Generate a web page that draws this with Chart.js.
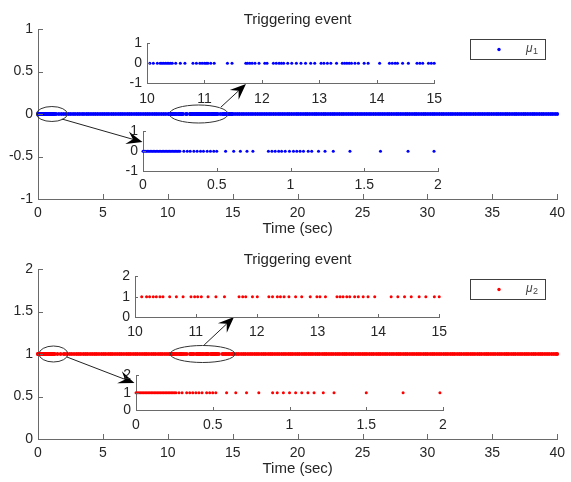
<!DOCTYPE html>
<html lang="en">
<head>
<meta charset="UTF-8" />
<title>Triggering event</title>
<script src="https://cdn.jsdelivr.net/npm/chart.js"></script>
<style>
  body { margin: 0; background: #fff; }
  #wrap { position: relative; width: 571px; height: 482px; overflow: hidden; background: #fff; }
  #wrap canvas { position: absolute; }
</style>
</head>
<body>
<div id="wrap"></div>
<script>
// ---- event times (sec), mu1 ----
const mu1Start = [0.00, 0.01, 0.02, 0.03, 0.04, 0.05, 0.06, 0.07, 0.08, 0.09, 0.10, 0.11, 0.12, 0.13,
  0.14, 0.15, 0.16, 0.17, 0.18, 0.19, 0.20, 0.21, 0.22, 0.23, 0.24, 0.25, 0.277, 0.30, 0.32, 0.345,
  0.367, 0.39, 0.41, 0.435, 0.457, 0.48, 0.50, 0.56, 0.615, 0.66, 0.705, 0.745, 0.85, 0.874, 0.896,
  0.92, 0.94, 0.964, 0.993, 1.02, 1.043, 1.065, 1.088, 1.12, 1.144, 1.19, 1.234, 1.29, 1.403, 1.61,
  1.797, 1.973];
const mu1Mid = [2.15, 2.35, 2.52, 2.70, 2.86, 3.05, 3.22, 3.40, 3.55, 3.74, 3.90, 4.08, 4.25, 4.42,
  4.60, 4.78, 4.95, 5.12, 5.30, 5.46, 5.65, 5.82, 6.00, 6.18, 6.35, 6.52, 6.70, 6.88, 7.05, 7.22,
  7.40, 7.58, 7.75, 7.92, 8.10, 8.28, 8.45, 8.62, 8.80, 8.98, 9.15, 9.32, 9.50, 9.68, 9.85];
const mu1Zoom = [10.05, 10.11, 10.18, 10.23, 10.26, 10.29, 10.32, 10.35, 10.38, 10.41, 10.44, 10.50,
  10.58, 10.66, 10.80, 10.86, 10.92, 10.96, 11.00, 11.03, 11.06, 11.11, 11.17, 11.40, 11.48, 11.72,
  11.75, 11.79, 11.83, 11.88, 11.95, 12.05, 12.09, 12.20, 12.25, 12.30, 12.34, 12.38, 12.45, 12.52,
  12.60, 12.68, 12.76, 12.85, 12.92, 13.03, 13.08, 13.14, 13.20, 13.30, 13.40, 13.44, 13.48, 13.52,
  13.56, 13.62, 13.68, 13.78, 13.85, 14.05, 14.22, 14.27, 14.32, 14.36, 14.45, 14.55, 14.70, 14.75,
  14.80, 14.90, 14.95, 15.00];
const mu1End = [15.18, 15.35, 15.52, 15.70, 15.86, 16.04, 16.22, 16.40, 16.56, 16.74, 16.92, 17.10,
  17.26, 17.44, 17.62, 17.80, 17.96, 18.14, 18.32, 18.50, 18.66, 18.84, 19.02, 19.20, 19.36, 19.54,
  19.72, 19.90, 20.06, 20.24, 20.42, 20.60, 20.76, 20.94, 21.12, 21.30, 21.46, 21.64, 21.82, 22.00,
  22.16, 22.34, 22.52, 22.70, 22.86, 23.04, 23.22, 23.40, 23.56, 23.74, 23.92, 24.10, 24.26, 24.44,
  24.62, 24.80, 24.96, 25.14, 25.32, 25.50, 25.66, 25.84, 26.02, 26.20, 26.36, 26.54, 26.72, 26.90,
  27.06, 27.24, 27.42, 27.60, 27.76, 27.94, 28.12, 28.30, 28.46, 28.64, 28.82, 29.00, 29.16, 29.34,
  29.52, 29.70, 29.86, 30.04, 30.22, 30.40, 30.56, 30.74, 30.92, 31.10, 31.26, 31.44, 31.62, 31.80,
  31.96, 32.14, 32.32, 32.50, 32.66, 32.84, 33.02, 33.20, 33.36, 33.54, 33.72, 33.90, 34.06, 34.24,
  34.42, 34.60, 34.76, 34.94, 35.12, 35.30, 35.46, 35.64, 35.82, 36.00, 36.16, 36.34, 36.52, 36.70,
  36.86, 37.04, 37.22, 37.40, 37.56, 37.74, 37.92, 38.10, 38.26, 38.44, 38.62, 38.80, 38.96, 39.14,
  39.32, 39.50, 39.66, 39.84, 40.00];

// ---- event times (sec), mu2 ----
const mu2Start = [0.00, 0.01, 0.02, 0.03, 0.04, 0.05, 0.06, 0.07, 0.08, 0.09, 0.10, 0.11, 0.12, 0.13,
  0.14, 0.15, 0.16, 0.17, 0.18, 0.19, 0.20, 0.21, 0.22, 0.23, 0.24, 0.25, 0.26, 0.28, 0.30, 0.33,
  0.35, 0.37, 0.39, 0.41, 0.43, 0.46, 0.48, 0.50, 0.52, 0.59, 0.65, 0.72, 0.80, 0.89, 0.92, 0.96,
  1.00, 1.04, 1.08, 1.12, 1.16, 1.22, 1.29, 1.50, 1.74, 1.98];
const mu2Mid = [2.08, 2.25, 2.44, 2.60, 2.78, 2.97, 3.14, 3.30, 3.49, 3.66, 3.82, 4.01, 4.18, 4.36,
  4.52, 4.70, 4.89, 5.06, 5.22, 5.41, 5.58, 5.74, 5.93, 6.10, 6.28, 6.44, 6.62, 6.81, 6.98, 7.14,
  7.33, 7.50, 7.66, 7.85, 8.02, 8.20, 8.36, 8.54, 8.73, 8.90, 9.06, 9.25, 9.42, 9.58, 9.77, 9.94];
const mu2Zoom = [10.11, 10.19, 10.24, 10.30, 10.35, 10.41, 10.46, 10.57, 10.68, 10.79, 10.92, 10.98,
  11.03, 11.09, 11.20, 11.33, 11.47, 11.71, 11.77, 11.82, 11.93, 12.01, 12.20, 12.26, 12.34, 12.39,
  12.45, 12.53, 12.64, 12.74, 12.88, 12.99, 13.04, 13.13, 13.32, 13.37, 13.42, 13.48, 13.53, 13.61,
  13.67, 13.75, 13.83, 13.94, 14.21, 14.32, 14.43, 14.54, 14.67, 14.78, 14.92, 15.00];
const mu2End = [15.12, 15.30, 15.46, 15.65, 15.82, 15.98, 16.17, 16.34, 16.50, 16.69, 16.86, 17.02,
  17.21, 17.38, 17.54, 17.73, 17.90, 18.06, 18.25, 18.42, 18.58, 18.77, 18.94, 19.10, 19.29, 19.46,
  19.62, 19.81, 19.98, 20.14, 20.33, 20.50, 20.66, 20.85, 21.02, 21.18, 21.37, 21.54, 21.70, 21.89,
  22.06, 22.22, 22.41, 22.58, 22.74, 22.93, 23.10, 23.26, 23.45, 23.62, 23.78, 23.97, 24.14, 24.30,
  24.49, 24.66, 24.82, 25.01, 25.18, 25.34, 25.53, 25.70, 25.86, 26.05, 26.22, 26.38, 26.57, 26.74,
  26.90, 27.09, 27.26, 27.42, 27.61, 27.78, 27.94, 28.13, 28.30, 28.46, 28.65, 28.82, 28.98, 29.17,
  29.34, 29.50, 29.69, 29.86, 30.02, 30.21, 30.38, 30.54, 30.73, 30.90, 31.06, 31.25, 31.42, 31.58,
  31.77, 31.94, 32.10, 32.29, 32.46, 32.62, 32.81, 32.98, 33.14, 33.33, 33.50, 33.66, 33.85, 34.02,
  34.18, 34.37, 34.54, 34.70, 34.89, 35.06, 35.22, 35.41, 35.58, 35.74, 35.93, 36.10, 36.26, 36.45,
  36.62, 36.78, 36.97, 37.14, 37.30, 37.49, 37.66, 37.82, 38.01, 38.18, 38.34, 38.53, 38.70, 38.86,
  39.05, 39.22, 39.38, 39.57, 39.74, 39.90, 40.00];

// ---- tick labels ----
const mainXTicks = [0, 5, 10, 15, 20, 25, 30, 35, 40];
const mu1YTicks = [-1, -0.5, 0, 0.5, 1];
const mu2YTicks = [0, 0.5, 1, 1.5, 2];
const zoomXTicks = [10, 11, 12, 13, 14, 15];
const startXTicks = [0, 0.5, 1, 1.5, 2];
const mu1InsetYTicks = [-1, 0, 1];
const mu2InsetYTicks = [0, 1, 2];

const AX = '#6a6a6a', TXT = '#262626', FONT = '"Liberation Sans", Arial, sans-serif';
const BLUE = '#0000ff', RED = '#ff0000';
Chart.defaults.font.family = FONT;
Chart.defaults.font.size = 14;
Chart.defaults.color = TXT;

const wrap = document.getElementById('wrap');

function drawArrow(ctx, x0, y0, x1, y1) {
  const ang = Math.atan2(y1 - y0, x1 - x0), L = 16, W = 6.5, N = 10;
  const ux = Math.cos(ang), uy = Math.sin(ang);
  const bx = x1 - ux * L, by = y1 - uy * L, nx = x1 - ux * N, ny = y1 - uy * N;
  ctx.strokeStyle = '#222';
  ctx.lineWidth = 1;
  ctx.beginPath(); ctx.moveTo(x0, y0); ctx.lineTo(nx, ny); ctx.stroke();
  ctx.fillStyle = '#000';
  ctx.beginPath();
  ctx.moveTo(x1, y1);
  ctx.lineTo(bx - uy * W, by + ux * W);
  ctx.lineTo(nx, ny);
  ctx.lineTo(bx + uy * W, by - ux * W);
  ctx.closePath(); ctx.fill();
}

// inward ticks, title, x label, legend and zoom marks, matlab style
const matlabLook = {
  id: 'matlabLook',
  afterDatasetsDraw(chart, args, o) {
    const { ctx, chartArea: a, scales: { x, y } } = chart;
    ctx.save();
    ctx.strokeStyle = AX; ctx.lineWidth = 1;
    ctx.beginPath();
    for (const t of x.ticks) {
      const p = Math.round(x.getPixelForValue(t.value)) + 0.5;
      ctx.moveTo(p, a.bottom); ctx.lineTo(p, a.bottom - o.tickLen);
    }
    for (const t of y.ticks) {
      const p = Math.round(y.getPixelForValue(t.value)) + 0.5;
      ctx.moveTo(a.left, p); ctx.lineTo(a.left + o.tickLen, p);
    }
    ctx.stroke();

    const cx = (a.left + a.right) / 2;
    ctx.fillStyle = TXT; ctx.textAlign = 'center'; ctx.textBaseline = 'middle';
    ctx.font = '15px ' + FONT;
    if (o.title) ctx.fillText(o.title, cx, a.top - 9);
    if (o.xlabel) ctx.fillText(o.xlabel, cx, a.bottom + 30);

    ctx.strokeStyle = '#333';
    for (const e of o.ellipses || []) {
      const px = x.getPixelForValue(e.x), py = y.getPixelForValue(e.y);
      const rx = Math.abs(x.getPixelForValue(e.x + e.rx) - px);
      const ry = Math.abs(y.getPixelForValue(e.y + e.ry) - py);
      ctx.beginPath(); ctx.ellipse(px, py, rx, ry, 0, 0, Math.PI * 2); ctx.stroke();
    }
    for (const r of o.arrows || []) {
      drawArrow(ctx, x.getPixelForValue(r.from[0]), y.getPixelForValue(r.from[1]),
        x.getPixelForValue(r.to[0]), y.getPixelForValue(r.to[1]));
    }

    if (o.legend) {
      const bx = Math.round(a.right) - 87, by = Math.round(a.top) + 10, bw = 75, bh = 20;
      ctx.fillStyle = '#fff'; ctx.fillRect(bx, by, bw, bh);
      ctx.strokeStyle = '#404040'; ctx.strokeRect(bx + 0.5, by + 0.5, bw, bh);
      ctx.fillStyle = o.legend.color;
      ctx.beginPath(); ctx.arc(bx + 29, by + 10.5, 1.7, 0, Math.PI * 2); ctx.fill();
      ctx.fillStyle = '#444'; ctx.textAlign = 'left';
      ctx.font = 'italic 12px ' + FONT;
      ctx.fillText('\u03bc', bx + 56, by + 10);
      const w = ctx.measureText('\u03bc').width;
      ctx.font = '9px ' + FONT;
      ctx.fillText(o.legend.sub, bx + 56 + w + 0.5, by + 13);
    }
    ctx.restore();
  }
};

function axis(min, max, ticks, size, pad) {
  return {
    type: 'linear', min, max,
    afterBuildTicks: s => { s.ticks = ticks.map(v => ({ value: v })); },
    afterFit: s => { if (s.isHorizontal()) s.height = size; else s.width = size; },
    ticks: { padding: pad, color: TXT, autoSkip: false, maxRotation: 0, callback: v => String(v) },
    grid: { display: false, drawTicks: false },
    border: { display: true, color: AX, width: 1 }
  };
}

// box: plot area in page pixels, p*: room around it for labels
function plot(box, times, level, color, radius, xs, ys, look) {
  const c = document.createElement('canvas');
  c.width = box.r - box.l + box.pl + box.pr;
  c.height = box.b - box.t + box.pt + box.pb;
  c.style.left = (box.l - box.pl) + 'px';
  c.style.top = (box.t - box.pt) + 'px';
  wrap.appendChild(c);
  return new Chart(c, {
    type: 'scatter',
    data: {
      datasets: [{
        data: times.map(t => ({ x: t, y: level })),
        backgroundColor: color, borderWidth: 0, pointRadius: radius, pointHoverRadius: radius, clip: 6
      }]
    },
    options: {
      responsive: false, animation: false, devicePixelRatio: 1, events: [],
      layout: { autoPadding: false, padding: { top: box.pt, right: box.pr, left: 0, bottom: 0 } },
      scales: {
        x: axis(xs[0], xs[1], xs[2], box.pb, xs[3]),
        y: axis(ys[0], ys[1], ys[2], box.pl, 5)
      },
      plugins: { legend: { display: false }, tooltip: { enabled: false }, matlabLook: look }
    },
    plugins: [matlabLook]
  });
}

const mu1All = mu1Start.concat(mu1Mid, mu1Zoom, mu1End);
const mu2All = mu2Start.concat(mu2Mid, mu2Zoom, mu2End);

// top panel
plot({ l: 38, r: 560, t: 29, b: 199, pl: 38, pr: 11, pt: 29, pb: 42 }, mu1All, 0, BLUE, 1.9,
  [0, 40, mainXTicks, 6], [-1, 1, mu1YTicks], {
    tickLen: 5, title: 'Triggering event', xlabel: 'Time (sec)',
    legend: { color: BLUE, sub: '1' },
    ellipses: [{ x: 1.07, y: 0, rx: 1.19, ry: 0.088 }, { x: 12.38, y: 0, rx: 2.26, ry: 0.106 }],
    arrows: [{ from: [1.84, -0.059], to: [8.05, -0.33] }, { from: [14.10, 0.082], to: [16.02, 0.353] }]
  });
plot({ l: 147, r: 438, t: 40, b: 83, pl: 30, pr: 12, pt: 10, pb: 26 }, mu1Zoom, 0, BLUE, 1.5,
  [10, 15, zoomXTicks, 8], [-1, 1, mu1InsetYTicks], { tickLen: 3 });
plot({ l: 143, r: 438, t: 128, b: 171, pl: 30, pr: 12, pt: 10, pb: 24 }, mu1Start, 0, BLUE, 1.5,
  [0, 2, startXTicks, 6], [-1, 1, mu1InsetYTicks], { tickLen: 3 });

// bottom panel
plot({ l: 38, r: 560, t: 269, b: 439, pl: 38, pr: 11, pt: 28, pb: 43 }, mu2All, 1, RED, 1.9,
  [0, 40, mainXTicks, 6], [0, 2, mu2YTicks], {
    tickLen: 5, title: 'Triggering event', xlabel: 'Time (sec)',
    legend: { color: RED, sub: '2' },
    ellipses: [{ x: 1.19, y: 1, rx: 1.11, ry: 0.094 }, { x: 12.68, y: 1, rx: 2.49, ry: 0.1 }],
    arrows: [{ from: [2.22, 0.965], to: [7.43, 0.659] }, { from: [12.80, 1.106], to: [15.10, 1.435] }]
  });
plot({ l: 135, r: 442, t: 273, b: 317, pl: 30, pr: 12, pt: 10, pb: 24 }, mu2Zoom, 1, RED, 1.5,
  [10, 15, zoomXTicks, 7], [0, 2, mu2InsetYTicks], { tickLen: 3 });
plot({ l: 136, r: 443, t: 372, b: 410, pl: 30, pr: 12, pt: 10, pb: 24 }, mu2Start, 1, RED, 1.5,
  [0, 2, startXTicks, 7], [0, 2, mu2InsetYTicks], { tickLen: 3 });
</script>
</body>
</html>
